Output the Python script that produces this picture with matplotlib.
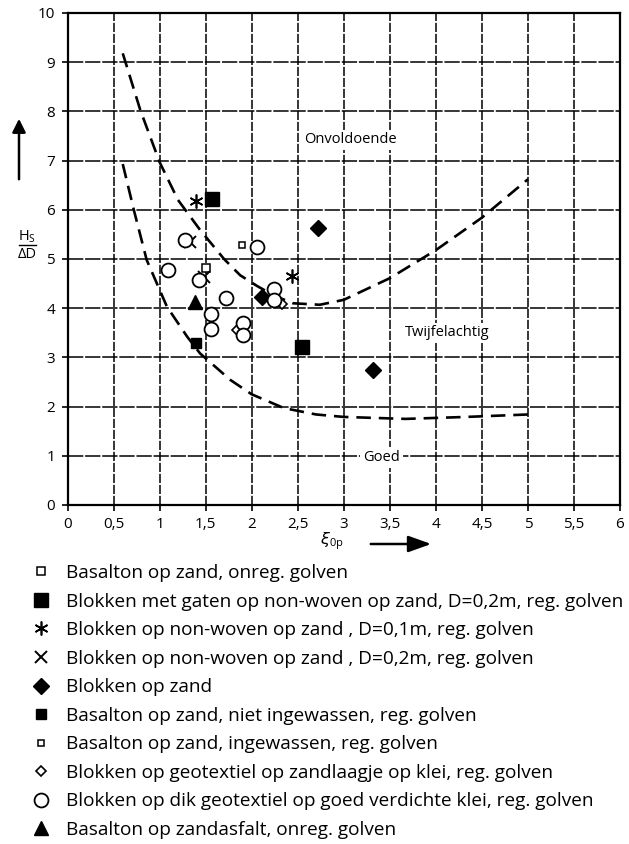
import matplotlib
matplotlib.use("Agg")
import matplotlib.pyplot as plt
from matplotlib.lines import Line2D
from matplotlib.patches import FancyArrowPatch

plt.rcParams['font.family'] = ['Open Sans', 'DejaVu Sans']

# ---------------- data ----------------
labels = [
    "Basalton op zand, onreg. golven",
    "Blokken met gaten op non-woven op zand, D=0,2m, reg. golven",
    "Blokken op non-woven op zand , D=0,1m, reg. golven",
    "Blokken op non-woven op zand , D=0,2m, reg. golven",
    "Blokken op zand",
    "Basalton op zand, niet ingewassen, reg. golven",
    "Basalton op zand, ingewassen, reg. golven",
    "Blokken op geotextiel op zandlaagje op klei, reg. golven",
    "Blokken op dik geotextiel op goed verdichte klei, reg. golven",
    "Basalton op zandasfalt, onreg. golven",
]

basalton_onreg_x = [1.50]
basalton_onreg_y = [4.81]
gaten_x = [1.57, 2.55]
gaten_y = [6.21, 3.22]
nw01_x = [1.40, 2.44]
nw01_y = [6.17, 4.65]
nw02_x = [1.33, 1.48]
nw02_y = [5.35, 4.63]
zand_x = [2.72, 2.11, 3.32]
zand_y = [5.64, 4.23, 2.74]
niet_ingew_x = [1.40]
niet_ingew_y = [3.29]
ingew_x = [1.89]
ingew_y = [5.28]
geotex_x = [2.33, 1.84]
geotex_y = [4.09, 3.56]
klei_x = [1.28, 2.06, 1.09, 1.43, 2.24, 2.24, 1.72, 1.56, 1.56, 1.91, 1.91]
klei_y = [5.39, 5.24, 4.78, 4.57, 4.40, 4.17, 4.20, 3.88, 3.58, 3.69, 3.46]
asfalt_x = [1.38]
asfalt_y = [4.13]

upper_x = [0.60, 0.79, 1.00, 1.20, 1.44, 1.70, 1.875, 2.06, 2.25, 2.45, 2.74, 3.00, 3.50, 4.00, 4.50, 5.00]
upper_y = [9.18, 8.03, 6.97, 6.20, 5.59, 5.00, 4.67, 4.45, 4.25, 4.10, 4.07, 4.17, 4.61, 5.18, 5.84, 6.62]
lower_x = [0.60, 0.72, 0.86, 1.08, 1.30, 1.44, 1.77, 2.00, 2.35, 2.70, 3.00, 3.67, 4.33, 5.00]
lower_y = [6.93, 6.00, 4.98, 4.03, 3.42, 3.08, 2.54, 2.25, 1.97, 1.84, 1.79, 1.75, 1.79, 1.84]

xticks = [0, 0.5, 1, 1.5, 2, 2.5, 3, 3.5, 4, 4.5, 5, 5.5, 6]
xtick_labels = ["0", "0,5", "1", "1,5", "2", "2,5", "3", "3,5", "4", "4,5", "5", "5,5", "6"]
yticks = list(range(0, 11))

# ---------------- figure ----------------
W, H = 629, 844
fig = plt.figure(figsize=(W / 100, H / 100), dpi=100)
ax = fig.add_axes([67.5 / W, 1 - 505 / H, (620 - 67.5) / W, (505 - 13) / H])
ax.set_xlim(0, 6)
ax.set_ylim(0, 10)

for v in xticks[1:-1]:
    ax.axvline(v, color='black', lw=1.1, ls=(0, (6, 1.2)), zorder=1)
for v in yticks[1:-1]:
    ax.axhline(v, color='black', lw=1.1, ls=(0, (10, 1.2)), zorder=1)

for s in ax.spines.values():
    s.set_linewidth(1.6)

ax.set_xticks(xticks)
ax.set_xticklabels(xtick_labels)
ax.set_yticks(yticks)
ax.tick_params(direction='out', length=4, width=1.2, labelsize=11, pad=5)

ax.plot(upper_x, upper_y, color='black', lw=1.9, ls=(0, (5.5, 3)), zorder=2)
ax.plot(lower_x, lower_y, color='black', lw=1.9, ls=(0, (5.5, 3)), zorder=2)

kw = dict(ls='none', color='black', zorder=4)
h = []
h += ax.plot(basalton_onreg_x, basalton_onreg_y, marker='s', ms=6, mfc='white', mew=1.1, **kw)
h += ax.plot(gaten_x, gaten_y, marker='s', ms=10.5, mfc='black', **kw)
h += ax.plot(nw01_x, nw01_y, marker=(6, 2, 0), ms=10, mew=1.2, **kw)
h += ax.plot(nw02_x, nw02_y, marker='x', ms=9, mew=1.4, **kw)
h += ax.plot(zand_x, zand_y, marker='D', ms=8, mfc='black', **kw)
h += ax.plot(niet_ingew_x, niet_ingew_y, marker='s', ms=7.5, mfc='black', **kw)
h += ax.plot(ingew_x, ingew_y, marker='s', ms=5, mfc='white', mew=1.1, **kw)
h += ax.plot(geotex_x, geotex_y, marker='D', ms=5, mfc='white', mew=1.2, **kw)
h += ax.plot(klei_x, klei_y, marker='o', ms=10, mfc='white', mew=1.3, **kw)
h += ax.plot(asfalt_x, asfalt_y, marker='^', ms=10, mfc='black', **kw)

box = dict(facecolor='white', edgecolor='none', pad=2)
ax.text(3.07, 7.42, "Onvoldoende", ha='center', va='center', fontsize=10.5, bbox=box, zorder=3)
ax.text(4.12, 3.50, "Twijfelachtig", ha='center', va='center', fontsize=10.5, bbox=box, zorder=3)
ax.text(3.41, 0.97, "Goed", ha='center', va='center', fontsize=10.5, bbox=box, zorder=3)

# y label with arrow
fig.text(27 / W, 1 - 237 / H, r"H$_\mathregular{S}$", ha='center', va='center', fontsize=10.5)
fig.add_artist(Line2D([19 / W, 36 / W], [1 - 245 / H, 1 - 245 / H], color='black', lw=1.0))
fig.text(27 / W, 1 - 254 / H, "ΔD", ha='center', va='center', fontsize=10.5)
fig.add_artist(FancyArrowPatch(
    (19 / W, 1 - 182 / H), (19 / W, 1 - 116 / H), transform=fig.transFigure,
    arrowstyle='-|>,head_length=8,head_width=4', color='black', lw=1.8, mutation_scale=1))

# x label with arrow
fig.text(332 / W, 1 - 541 / H, r"$\xi$$_\mathregular{0p}$", ha='center', va='center', fontsize=11.5)
fig.add_artist(FancyArrowPatch(
    (368 / W, 1 - 544 / H), (434 / W, 1 - 544 / H), transform=fig.transFigure,
    arrowstyle='-|>,head_length=14,head_width=5', color='black', lw=1.8, mutation_scale=1))

fig.legend(h, labels, loc='upper left', bbox_to_anchor=(31 / W, 1 - 564 / H),
           frameon=False, fontsize=13.7, handlelength=1.0, handletextpad=0.85,
           labelspacing=0.555, borderaxespad=0, borderpad=0, numpoints=1)

fig.savefig("out.png", dpi=100)
